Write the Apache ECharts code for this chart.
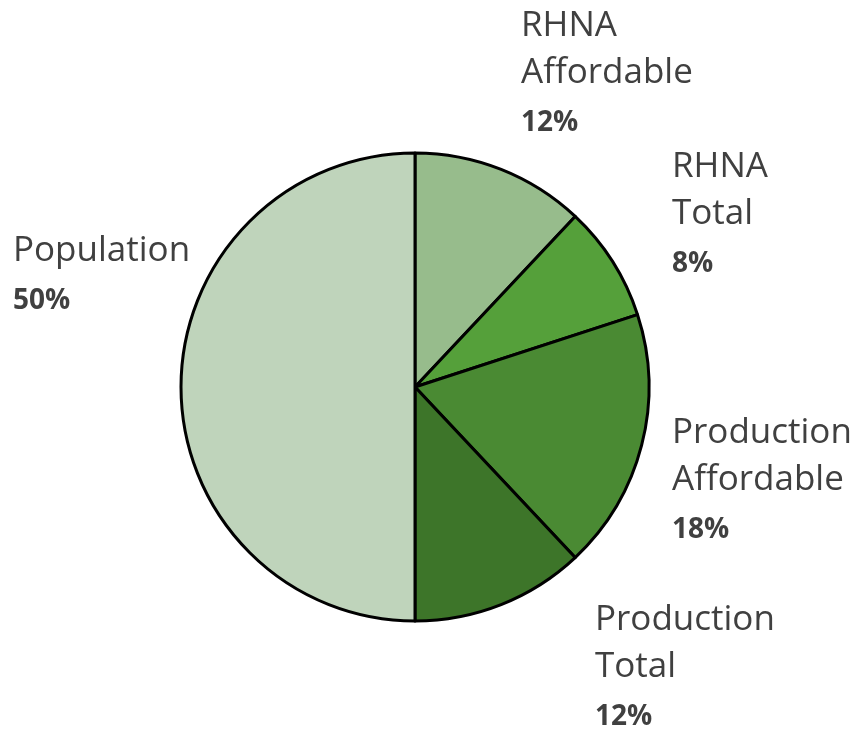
<!DOCTYPE html>
<html>
<head>
<meta charset="utf-8">
<script src="https://cdn.jsdelivr.net/npm/echarts@6/dist/echarts.min.js"></script>
<style>
  html, body { margin: 0; padding: 0; background: #fff; }
  #chart { width: 861px; height: 731px; }
</style>
</head>
<body>
<div id="chart"></div>
<script>
// slices clockwise from 12 o'clock
const categories = ['RHNA Affordable', 'RHNA Total', 'Production Affordable', 'Production Total', 'Population'];
const shares = [12, 8, 18, 12, 50];
const colors = ['#97bc8c', '#55a03a', '#4a8a33', '#3d7529', '#bfd4bb'];

// left/top of each label block
const labelSpots = [
  [521, 3],
  [672, 144],
  [672, 410],
  [595, 597],
  [13, 228],
];

const chart = echarts.init(document.getElementById('chart'));

chart.setOption({
  animation: false,
  series: [{
    type: 'pie',
    center: [415, 387],
    radius: 234,
    startAngle: 90,
    clockwise: true,
    silent: true,
    itemStyle: { borderColor: '#000', borderWidth: 3 },
    label: {
      show: true,
      position: 'outside',
      overflow: 'none',
      formatter(p) {
        return '{n|' + p.name.split(' ').join('}\n{n|') + '}\n{p|' + p.value + '%}';
      },
      rich: {
        n: { fontFamily: 'Open Sans', fontSize: 35, lineHeight: 47, color: '#404040' },
        p: { fontFamily: 'Open Sans', fontSize: 28, fontWeight: 'bold', lineHeight: 53, color: '#404040' },
      },
    },
    labelLine: { show: false },
    labelLayout(params) {
      const spot = labelSpots[params.dataIndex];
      return { x: spot[0], y: spot[1], align: 'left', verticalAlign: 'top' };
    },
    data: categories.map((name, i) => ({
      name,
      value: shares[i],
      itemStyle: { color: colors[i] },
    })),
  }],
});
</script>
</body>
</html>
